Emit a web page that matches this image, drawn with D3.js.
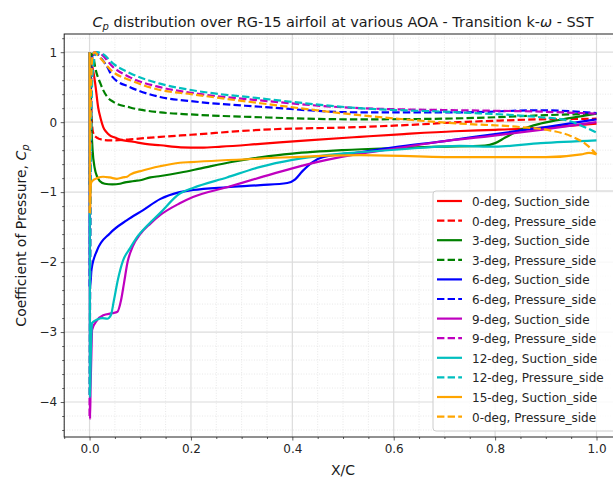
<!DOCTYPE html>
<html><head><meta charset="utf-8">
<script src="https://cdn.jsdelivr.net/npm/d3@7"></script>
<style>body{margin:0;background:#fff;overflow:hidden} text{font-family:"DejaVu Sans",sans-serif}</style>
</head><body><svg id="c" width="613" height="483"></svg>
<script>
// ---------- data ----------
const xTicks = [0, 0.2, 0.4, 0.6, 0.8, 1.0];
const yTicks = [1, 0, -1, -2, -3, -4];
const labels = ["0-deg, Suction_side","0-deg, Pressure_side","3-deg, Suction_side","3-deg, Pressure_side",
  "6-deg, Suction_side","6-deg, Pressure_side","9-deg, Suction_side","9-deg, Pressure_side",
  "12-deg, Suction_side","12-deg, Pressure_side","15-deg, Suction_side","0-deg, Pressure_side"];

const x0S  = [0,0.004,0.008,0.011,0.017,0.022,0.027,0.033,0.04,0.05,0.06,0.086,0.11,0.14,0.18,0.22,0.26,0.337,0.43,0.533,0.62,0.72,0.8,0.89,0.95,1.0];
const cp0S = [1.0,0.85,0.7,0.56,0.21,0.05,-0.07,-0.14,-0.19,-0.22,-0.25,-0.28,-0.31,-0.33,-0.36,-0.365,-0.35,-0.31,-0.26,-0.21,-0.17,-0.13,-0.11,-0.08,-0.05,-0.02];

const x0P  = [0,0.002,0.004,0.007,0.012,0.02,0.035,0.05,0.08,0.14,0.2,0.337,0.533,0.63,0.73,0.8,0.89,0.95,1.0];
const cp0P = [1.0,0.6,0.1,-0.15,-0.21,-0.24,-0.26,-0.26,-0.245,-0.21,-0.18,-0.11,-0.07,-0.04,0.0,0.02,0.04,0.045,0.05];

const x3S  = [0,0.002,0.004,0.006,0.01,0.015,0.02,0.03,0.045,0.06,0.07,0.08,0.09,0.1,0.12,0.14,0.18,0.22,0.28,0.34,0.4,0.5,0.6,0.69,0.78,0.8,0.82,0.85,0.89,0.95,1.0];
const cp3S = [1.0,0.5,-0.1,-0.4,-0.65,-0.78,-0.84,-0.88,-0.89,-0.88,-0.86,-0.85,-0.84,-0.83,-0.79,-0.77,-0.72,-0.66,-0.57,-0.5,-0.45,-0.4,-0.37,-0.35,-0.335,-0.3,-0.22,-0.11,-0.02,0.06,0.12];

const x3P  = [0,0.003,0.005,0.008,0.011,0.021,0.035,0.047,0.08,0.14,0.2,0.337,0.533,0.7,0.8,0.9,1.0];
const cp3P = [-0.9,0.9,0.98,0.92,0.79,0.56,0.36,0.29,0.21,0.14,0.11,0.07,0.04,0.05,0.07,0.1,0.12];

const x6S  = [0,0.001,0.004,0.015,0.04,0.074,0.105,0.139,0.178,0.204,0.271,0.337,0.39,0.405,0.42,0.44,0.46,0.533,0.6,0.7,0.8,0.9,1.0];
const cp6S = [1.0,-2.35,-2.1,-1.83,-1.59,-1.4,-1.26,-1.1,-1.0,-0.97,-0.93,-0.9,-0.87,-0.82,-0.7,-0.57,-0.5,-0.43,-0.36,-0.27,-0.17,-0.07,0.04];

const x6P  = [0,0.003,0.006,0.01,0.021,0.035,0.046,0.08,0.113,0.139,0.2,0.337,0.533,0.73,0.89,1.0];
const cp6P = [-2.35,0.5,0.95,1.0,0.93,0.79,0.64,0.5,0.41,0.36,0.3,0.22,0.14,0.14,0.17,0.13];

const x9S  = [0,0.001,0.002,0.004,0.005,0.015,0.027,0.045,0.055,0.062,0.068,0.075,0.085,0.1,0.12,0.139,0.178,0.204,0.271,0.337,0.4,0.468,0.533,0.6,0.69,0.79,0.89,1.0];
const cp9S = [1.0,-4.24,-3.8,-3.2,-2.97,-2.83,-2.76,-2.73,-2.71,-2.55,-2.3,-2.0,-1.78,-1.6,-1.45,-1.33,-1.16,-1.07,-0.93,-0.79,-0.66,-0.54,-0.45,-0.38,-0.28,-0.2,-0.11,0.0];

const x9P  = [0,0.004,0.008,0.012,0.021,0.046,0.08,0.139,0.2,0.337,0.533,0.73,0.89,1.0];
const cp9P = [-4.2,0.4,0.95,1.0,0.98,0.79,0.64,0.5,0.42,0.31,0.2,0.17,0.15,0.12];

const x12S  = [0,0.001,0.002,0.004,0.005,0.015,0.025,0.035,0.042,0.048,0.056,0.066,0.08,0.094,0.115,0.139,0.178,0.204,0.271,0.337,0.4,0.468,0.533,0.63,0.73,0.8,0.89,1.0];
const cp12S = [1.0,-3.93,-3.5,-2.95,-2.87,-2.82,-2.8,-2.81,-2.76,-2.55,-2.25,-1.98,-1.8,-1.64,-1.47,-1.3,-1.02,-0.94,-0.79,-0.64,-0.54,-0.47,-0.43,-0.38,-0.34,-0.35,-0.3,-0.26];

const x12P  = [0,0.004,0.008,0.015,0.027,0.046,0.08,0.139,0.2,0.337,0.533,0.73,0.89,0.94,0.97,1.0];
const cp12P = [-3.9,0.3,0.85,1.0,0.97,0.84,0.7,0.55,0.46,0.34,0.2,0.14,0.07,0.03,-0.05,-0.15];

const x15S  = [0,0.0005,0.001,0.002,0.003,0.007,0.015,0.027,0.04,0.054,0.066,0.074,0.08,0.105,0.139,0.178,0.2,0.337,0.533,0.73,0.9,0.97,0.985,1.0];
const cp15S = [1.0,-0.5,-1.3,-1.0,-0.87,-0.83,-0.8,-0.78,-0.79,-0.81,-0.79,-0.78,-0.75,-0.69,-0.63,-0.58,-0.57,-0.52,-0.47,-0.5,-0.5,-0.46,-0.44,-0.46];

const x15P  = [0,0.003,0.006,0.01,0.017,0.046,0.08,0.139,0.2,0.337,0.533,0.73,0.85,0.91,0.95,0.98,1.0];
const cp15P = [-1.3,0.5,0.95,1.0,0.95,0.72,0.6,0.46,0.4,0.27,0.1,-0.02,-0.07,-0.12,-0.2,-0.32,-0.46];

const seriesX  = [x0S,x0P,x3S,x3P,x6S,x6P,x9S,x9P,x12S,x12P,x15S,x15P];
const seriesCp = [cp0S,cp0P,cp3S,cp3P,cp6S,cp6P,cp9S,cp9P,cp12S,cp12P,cp15S,cp15P];

// ---------- styles ----------
const colors = ["#ff0000","#ff0000","#008000","#008000","#0000ff","#0000ff","#bf00bf","#bf00bf","#00bfbf","#00bfbf","#ffa500","#ffa500"];
const dashed = [false,true,false,true,false,true,false,true,false,true,false,true];

const W = 613, H = 483;
const L = 64.2, R = 621.85, T = 34, B = 437;
const svg = d3.select("#c");
const x = d3.scaleLinear().domain([-0.05, 1.05]).range([L, R]);
const y = d3.scaleLinear().domain([-4.5, 1.26]).range([B, T]);

svg.append("defs").append("clipPath").attr("id","clip")
  .append("rect").attr("x",L).attr("y",T).attr("width",R-L).attr("height",B-T);

// minor grid
const xMinor = d3.range(-0.05, 1.0501, 0.05).filter(v => Math.abs(v*5 - Math.round(v*5)) > 1e-6);
const yMinor = d3.range(-4.4, 1.2001, 0.2).filter(v => Math.abs(v - Math.round(v)) > 1e-6);
const g = svg.append("g");
g.selectAll(".gxm").data(xMinor).enter().append("line")
  .attr("x1",d=>x(d)).attr("x2",d=>x(d)).attr("y1",T).attr("y2",B)
  .attr("stroke","#e2e2e2").attr("stroke-width",0.8).attr("stroke-dasharray","1,1.6");
g.selectAll(".gym").data(yMinor).enter().append("line")
  .attr("y1",d=>y(d)).attr("y2",d=>y(d)).attr("x1",L).attr("x2",R)
  .attr("stroke","#e2e2e2").attr("stroke-width",0.8).attr("stroke-dasharray","1,1.6");
// major grid
g.selectAll(".gx").data(xTicks).enter().append("line")
  .attr("x1",d=>x(d)).attr("x2",d=>x(d)).attr("y1",T).attr("y2",B)
  .attr("stroke","#dcdcdc").attr("stroke-width",1.2);
g.selectAll(".gy").data(yTicks).enter().append("line")
  .attr("y1",d=>y(d)).attr("y2",d=>y(d)).attr("x1",L).attr("x2",R)
  .attr("stroke","#dcdcdc").attr("stroke-width",1.2);

// lines
const line = d3.line().x(d=>x(d[0])).y(d=>y(d[1])).curve(d3.curveMonotoneX);
const lg = svg.append("g").attr("clip-path","url(#clip)");
seriesX.forEach((xs,i) => {
  const pts = xs.map((v,j)=>[v, seriesCp[i][j]]);
  lg.append("path").attr("d", line(pts)).attr("fill","none")
    .attr("stroke", colors[i]).attr("stroke-width", 2.2)
    .attr("stroke-dasharray", dashed[i] ? "7.4,3.2" : null)
    .attr("stroke-linejoin","round");
});

// axes
const ax = svg.append("g").attr("transform",`translate(0,${B})`)
  .call(d3.axisBottom(x).tickValues(xTicks).tickFormat(d3.format(".1f")).tickSize(3.5).tickPadding(3.5));
const axm = svg.append("g").attr("transform",`translate(0,${B})`)
  .call(d3.axisBottom(x).tickValues(xMinor).tickFormat("").tickSize(2));
const ay = svg.append("g").attr("transform",`translate(${L},0)`)
  .call(d3.axisLeft(y).tickValues(yTicks).tickFormat(d3.format("d")).tickSize(3.5).tickPadding(3.5));
const aym = svg.append("g").attr("transform",`translate(${L},0)`)
  .call(d3.axisLeft(y).tickValues(yMinor).tickFormat("").tickSize(2));
[ax,axm,ay,aym].forEach(a => {
  a.select(".domain").remove();
  a.selectAll("line").attr("stroke","#333").attr("stroke-width",0.8);
  a.selectAll("text").attr("font-size",12).attr("fill","#262626").attr("font-family","DejaVu Sans");
});

// spines
svg.append("rect").attr("x",L).attr("y",T).attr("width",R-L).attr("height",B-T)
  .attr("fill","none").attr("stroke","#222").attr("stroke-width",1);

// legend
const lgX = 433, lgY = 191, lgW = 183, lgH = 240;
const leg = svg.append("g");
leg.append("rect").attr("x",lgX).attr("y",lgY).attr("width",lgW).attr("height",lgH)
  .attr("rx",3).attr("fill","#fff").attr("fill-opacity",0.8).attr("stroke","#cccccc").attr("stroke-width",1);
labels.forEach((lab,i) => {
  const yy = 201 + i*19.6;
  leg.append("line").attr("x1",437).attr("x2",462).attr("y1",yy).attr("y2",yy)
    .attr("stroke",colors[i]).attr("stroke-width",2.2)
    .attr("stroke-dasharray", dashed[i] ? "7.4,3.2" : null);
  leg.append("text").attr("x",472).attr("y",yy+1).attr("dominant-baseline","central")
    .attr("font-size",12).attr("fill","#262626").text(lab);
});

// title
const cx = (L+R)/2;
const title = svg.append("text").attr("x",cx).attr("y",27).attr("text-anchor","middle")
  .attr("font-size",14.4).attr("fill","#1a1a1a");
title.append("tspan").attr("font-style","italic").text("C");
title.append("tspan").attr("font-style","italic").attr("font-size",10).attr("dy",3).text("p");
title.append("tspan").attr("dy",-3).text(" distribution over RG-15 airfoil at various AOA - Transition k-");
title.append("tspan").attr("font-style","italic").text("ω");
title.append("tspan").text(" - SST");

// axis labels
svg.append("text").attr("x",cx).attr("y",475).attr("text-anchor","middle")
  .attr("font-size",14).attr("fill","#1a1a1a").text("X/C");
const yl = svg.append("text").attr("transform",`translate(26,${(T+B)/2}) rotate(-90)`)
  .attr("text-anchor","middle").attr("font-size",14).attr("fill","#1a1a1a");
yl.append("tspan").text("Coefficient of Pressure, ");
yl.append("tspan").attr("font-style","italic").text("C");
yl.append("tspan").attr("font-style","italic").attr("font-size",10).attr("dy",3).text("p");
</script></body></html>
